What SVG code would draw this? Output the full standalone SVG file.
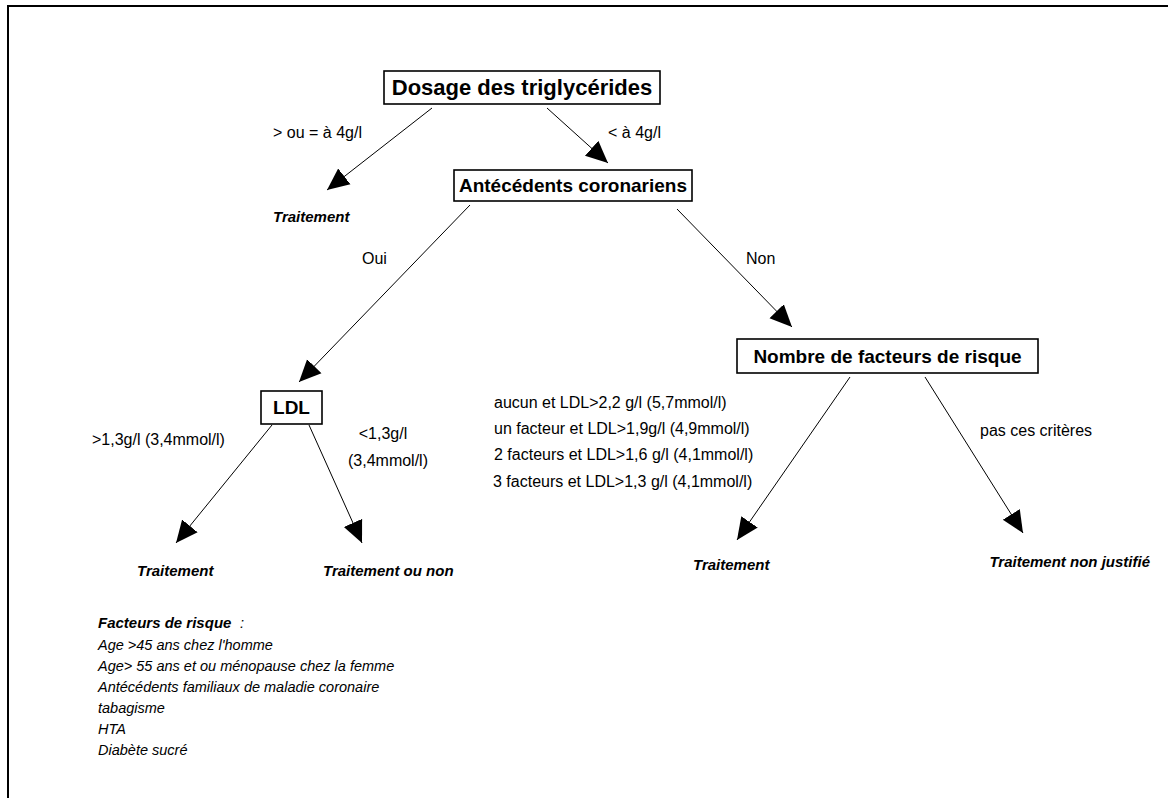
<svg xmlns="http://www.w3.org/2000/svg" width="1168" height="798" viewBox="0 0 1168 798">
<defs>
<marker id="ah" markerUnits="userSpaceOnUse" markerWidth="24" markerHeight="22" viewBox="0 -11 24 22" refX="22" refY="0" orient="auto">
<path d="M0,-10 L22,0 L0,10 z" fill="#000"/>
</marker>
<style>
.box{fill:#fff;stroke:#000;stroke-width:1.6}
.t{font-family:"Liberation Sans",Arial,sans-serif;fill:#000}
.nb{font-weight:bold;font-size:19px}
.lb{font-size:16px}
.res{font-weight:bold;font-style:italic;font-size:15px}
.it{font-style:italic;font-size:14.5px}
.c{stroke:#000;stroke-width:1;fill:none;marker-end:url(#ah)}
</style>
</defs>
<rect width="1168" height="798" fill="#fff"/>
<g id="frame" stroke="#000" stroke-width="2" fill="none">
<path d="M8,798 V6 H1168"/>
</g>
<g id="connectors">
<line class="c" x1="432" y1="108" x2="327" y2="190"/>
<line class="c" x1="547" y1="108" x2="608" y2="163"/>
<line class="c" x1="470" y1="205" x2="299" y2="382"/>
<line class="c" x1="677" y1="209" x2="792" y2="327"/>
<line class="c" x1="272" y1="425" x2="176" y2="543"/>
<line class="c" x1="309" y1="425" x2="362" y2="543"/>
<line class="c" x1="850" y1="377" x2="737" y2="540"/>
<line class="c" x1="925" y1="377" x2="1023" y2="533"/>
</g>
<g id="labels" class="t lb">
<text x="273" y="138">&gt; ou = à 4g/l</text>
<text x="608" y="138">&lt; à 4g/l</text>
<text x="362" y="264">Oui</text>
<text x="746" y="264">Non</text>
<text x="92" y="445">&gt;1,3g/l (3,4mmol/l)</text>
<text x="383" y="439" text-anchor="middle">&lt;1,3g/l</text>
<text x="388" y="466" text-anchor="middle">(3,4mmol/l)</text>
<text x="980" y="436">pas ces critères</text>
</g>
<g id="criteria" class="t lb">
<text x="494" y="408">aucun et LDL&gt;2,2 g/l (5,7mmol/l)</text>
<text x="494" y="434">un facteur et LDL&gt;1,9g/l (4,9mmol/l)</text>
<text x="494" y="460">2 facteurs et LDL&gt;1,6 g/l (4,1mmol/l)</text>
<text x="493" y="487">3 facteurs et LDL&gt;1,3 g/l (4,1mmol/l)</text>
</g>
<g id="node-dosage">
<rect class="box" x="384" y="71" width="276" height="33" stroke-width="2"/>
<text class="t" x="522" y="95" text-anchor="middle" font-weight="bold" font-size="22">Dosage des triglycérides</text>
</g>
<g id="node-antecedents">
<rect class="box" x="454" y="170" width="238" height="31"/>
<text class="t nb" x="573" y="192" text-anchor="middle" font-size="18">Antécédents coronariens</text>
</g>
<g id="node-nombre">
<rect class="box" x="737" y="339" width="301" height="34"/>
<text class="t nb" x="887.5" y="363" text-anchor="middle">Nombre de facteurs de risque</text>
</g>
<g id="node-ldl">
<rect class="box" x="261" y="391" width="61" height="33"/>
<text class="t nb" x="291.5" y="414" text-anchor="middle">LDL</text>
</g>
<g id="node-traitement-1"><text class="t res" x="273" y="222">Traitement</text></g>
<g id="node-traitement-2"><text class="t res" x="137" y="576">Traitement</text></g>
<g id="node-traitement-ou-non"><text class="t res" x="323" y="576">Traitement ou non</text></g>
<g id="node-traitement-3"><text class="t res" x="693" y="570">Traitement</text></g>
<g id="node-traitement-non-justifie"><text class="t res" x="1150" y="567" text-anchor="end">Traitement non justifié</text></g>
<g id="legend" class="t it">
<text x="98" y="628"><tspan font-weight="bold" font-size="15">Facteurs de risque</tspan><tspan x="240">:</tspan></text>
<text x="98" y="650">Age &gt;45 ans chez l'homme</text>
<text x="98" y="671">Age&gt; 55 ans et ou ménopause chez la femme</text>
<text x="98" y="692">Antécédents familiaux de maladie coronaire</text>
<text x="98" y="713">tabagisme</text>
<text x="98" y="734">HTA</text>
<text x="98" y="755">Diabète sucré</text>
</g>
</svg>
